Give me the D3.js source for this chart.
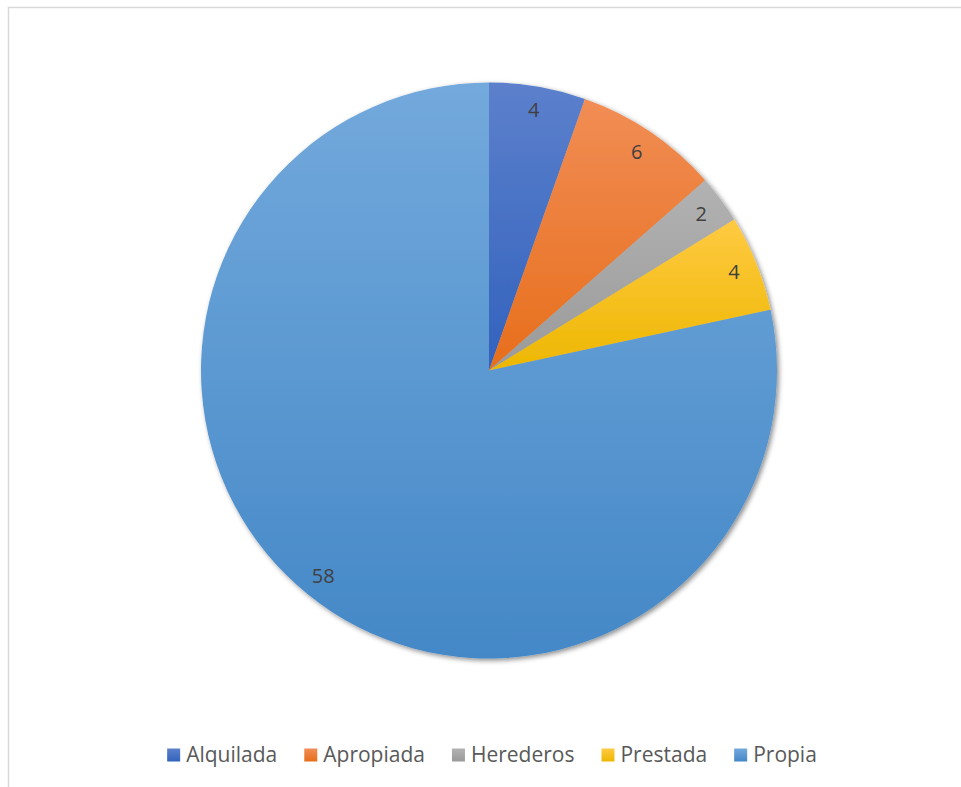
<!DOCTYPE html>
<html>
<head>
<meta charset="utf-8">
<script src="https://cdn.jsdelivr.net/npm/d3@7"></script>
<style>
  body { margin: 0; background: #fff; }
  svg { display: block; }
</style>
</head>
<body>
<div class="vis"></div>
<script>
const categories = ["Alquilada", "Apropiada", "Herederos", "Prestada", "Propia"];
const values = [4, 6, 2, 4, 58];
const topColors = ["#5c80cc", "#f18d55", "#b2b2b2", "#ffca42", "#73a9dc"];
const bottomColors = ["#3262bd", "#e76e1b", "#9a9a9a", "#edb700", "#4488c7"];

const width = 961, height = 787;
const cx = 489, cy = 370.5, radius = 288;

const data = categories.map((c, i) => ({ name: c, value: values[i], i: i }));

const svg = d3.select(".vis").append("svg")
  .attr("width", width)
  .attr("height", height);

const defs = svg.append("defs");

data.forEach((d) => {
  const g = defs.append("linearGradient")
    .attr("id", "grad" + d.i)
    .attr("x1", 0).attr("y1", 0).attr("x2", 0).attr("y2", 1);
  g.append("stop").attr("offset", "0%").attr("stop-color", topColors[d.i]);
  g.append("stop").attr("offset", "100%").attr("stop-color", bottomColors[d.i]);
});

const shadow = defs.append("filter")
  .attr("id", "shadow")
  .attr("x", "-10%").attr("y", "-10%")
  .attr("width", "120%").attr("height", "120%");
shadow.append("feDropShadow")
  .attr("dx", 2).attr("dy", 2)
  .attr("stdDeviation", 2.5)
  .attr("flood-color", "#000")
  .attr("flood-opacity", 0.45);

// chart border
svg.append("rect")
  .attr("x", 8.5).attr("y", 7.5)
  .attr("width", width + 10).attr("height", height + 10)
  .attr("fill", "none")
  .attr("stroke", "#d9d9d9")
  .attr("stroke-width", 1.5);

const pie = d3.pie().sort(null).value((d) => d.value);
const arc = d3.arc().innerRadius(0).outerRadius(radius);
const labelArc = d3.arc().innerRadius(264).outerRadius(264);

const arcs = pie(data);

const g = svg.append("g")
  .attr("transform", "translate(" + cx + "," + cy + ")");

g.append("g")
  .attr("filter", "url(#shadow)")
  .selectAll("path")
  .data(arcs)
  .join("path")
  .attr("d", arc)
  .attr("fill", (d) => "url(#grad" + d.data.i + ")");

g.append("g")
  .selectAll("text")
  .data(arcs)
  .join("text")
  .attr("transform", (d) => "translate(" + labelArc.centroid(d) + ")")
  .attr("text-anchor", "middle")
  .attr("dy", "0.35em")
  .style("font-family", "'Open Sans', sans-serif")
  .style("font-size", "20px")
  .style("fill", "#404040")
  .text((d) => d.data.value);

// legend
const legend = svg.append("g");
const items = legend.selectAll("g")
  .data(data)
  .join("g");

items.append("rect")
  .attr("width", 13).attr("height", 13)
  .attr("y", -6.5)
  .attr("fill", (d) => "url(#grad" + d.i + ")");

items.append("text")
  .attr("x", 19)
  .attr("dy", "0.35em")
  .style("font-family", "'Open Sans', sans-serif")
  .style("font-size", "21px")
  .style("fill", "#595959")
  .text((d) => d.name);

let xPos = 0;
const gap = 27;
items.each(function () {
  const w = 19 + this.querySelector("text").getComputedTextLength();
  d3.select(this).attr("transform", "translate(" + xPos + ",0)");
  xPos += w + gap;
});
const totalW = xPos - gap;
legend.attr("transform", "translate(" + (492 - totalW / 2) + ",755)");
</script>
</body>
</html>
